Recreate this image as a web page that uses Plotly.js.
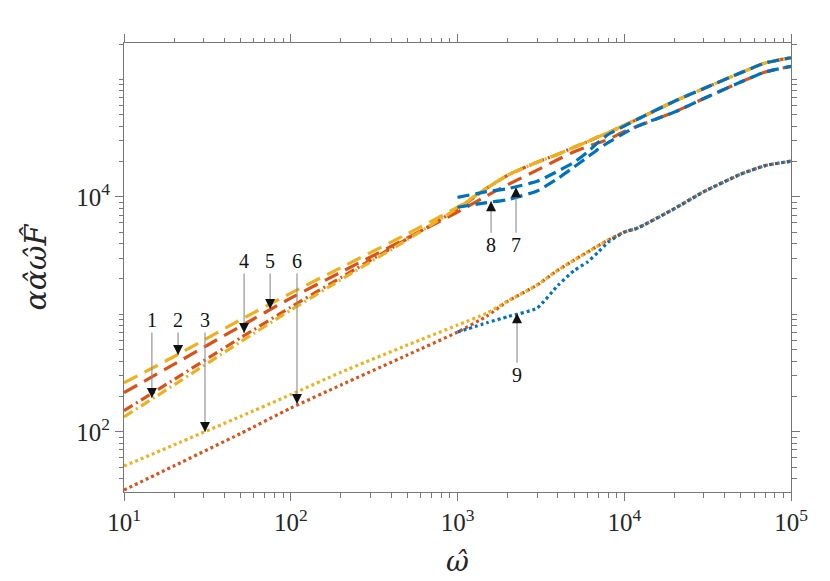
<!DOCTYPE html>
<html>
<head>
<meta charset="utf-8">
<script src="https://cdn.plot.ly/plotly-3.0.1.min.js"></script>
<style>
  body { margin: 0; background: #fff; }
  #plot { width: 830px; height: 581px; }
</style>
</head>
<body>
<div id="plot"></div>
<script>
// frequency grids
var omegaLow = [10, 20, 50, 100, 200, 500, 1000, 1500, 2000, 3000, 4000, 5000, 6000, 7000, 8000, 10000, 12000, 20000, 30000, 50000, 70000, 100000];
var omegaHigh = [1000, 1500, 2000, 3000, 4000, 5000, 6000, 7000, 8000, 10000, 12000, 20000, 30000, 50000, 70000, 100000];

// upper bundle (dashed / dash-dot)
var yelDashDot = [134, 251, 583, 1086, 1972, 4315, 8000, 11860, 15300, 19720, 23070, 26440, 29450, 32500, 35150, 40770, 45800, 65200, 83700, 114000, 138000, 153000];
var yelDash    = [261, 437, 898, 1514, 2500, 4840, 8170, 11860, 15300, 19720, 23070, 26440, 29450, 32500, 35150, 40770, 45800, 65200, 83700, 114000, 138000, 153000];
var orgDashDot = [151, 279, 631, 1151, 2057, 4395, 7850, 11860, 15300, 19720, 23070, 26440, 29450, 32500, 35150, 40770, 45800, 65200, 83700, 114000, 138000, 153000];
var orgDash    = [215, 376, 790, 1374, 2285, 4460, 7420, 10240, 12700, 16870, 20800, 24200, 26700, 28850, 30670, 36060, 40000, 52700, 68700, 95100, 115600, 129400];
var bluDashA   = [9900, 11070, 11750, 13550, 16560, 19670, 24000, 29240, 33960, 40000, 45800, 65200, 83700, 114000, 138000, 153000];
var bluDashB   = [8150, 8940, 9470, 11230, 14350, 17950, 21680, 25580, 28970, 34830, 40000, 52700, 68700, 95100, 115600, 129400];

// lower bundle (dotted)
var yelDot = [51, 77.4, 135, 207, 321, 547, 809, 1024, 1294, 1771, 2376, 2890, 3380, 3843, 4280, 5010, 5420, 7940, 11070, 15600, 18450, 20140];
var orgDot = [31.9, 51.3, 96.6, 159, 250, 450, 706, 966, 1294, 1771, 2376, 2890, 3380, 3843, 4280, 5010, 5420, 7940, 11070, 15600, 18450, 20140];
var bluDot = [706, 847, 955, 1129, 1762, 2355, 2780, 3395, 4100, 5010, 5420, 7940, 11070, 15600, 18450, 20140];

// curve labels: text, arrow target (data), text offset (px)
var labelText = ['1', '2', '3', '4', '5', '6', '7', '8', '9'];
var labelX = [14.7, 21.1, 30.6, 52.5, 75.2, 109, 2244, 1589, 2275];
var labelY = [194, 450, 99.4, 692, 1107, 172, 12100, 9190, 1023];
var labelAY = [-78, -35, -112, -72, -48, -143, 58, 44, 62];

var xTickVals = [10, 100, 1000, 10000, 100000];
var xTickText = ['10<sup>1</sup>', '10<sup>2</sup>', '10<sup>3</sup>', '10<sup>4</sup>', '10<sup>5</sup>'];
var yTickVals = [100, 10000];
var yTickText = ['10<sup>2</sup>', '10<sup>4</sup>'];

var YEL = '#EDB120', ORG = '#D95319', BLU = '#0072BD';
var DASH = '15px,8px', DASHDOT = '10px,4px,2px,4px', DOT = '3px,3px', BDASH = '12px,6px';
var SERIF = 'Liberation Serif';
var MATHF = 'DejaVu Serif';

function tr(x, y, color, dash) {
  return {
    x: x, y: y, type: 'scatter', mode: 'lines',
    line: {color: color, width: 3.2, dash: dash, shape: 'spline', smoothing: 0.5},
    hoverinfo: 'skip', showlegend: false
  };
}

var data = [
  tr(omegaLow, orgDash, ORG, DASH),
  tr(omegaLow, orgDashDot, ORG, DASHDOT),
  tr(omegaLow, orgDot, ORG, DOT),
  tr(omegaLow, yelDash, YEL, DASH),
  tr(omegaLow, yelDashDot, YEL, DASHDOT),
  tr(omegaLow, yelDot, YEL, DOT),
  tr(omegaHigh, bluDashA, BLU, BDASH),
  tr(omegaHigh, bluDashB, BLU, BDASH),
  tr(omegaHigh, bluDot, BLU, DOT)
];

// minor ticks at 1..9 x 10^n
function minorVals(lo, hi) {
  var v = [];
  for (var d = lo; d <= hi; d++) {
    for (var k = 1; k <= 9; k++) v.push(k * Math.pow(10, d));
  }
  return v;
}

// gray shaft with the label, then a short black head on top
var annotations = [];
labelText.forEach(function(t, i) {
  var ax = Math.log10(labelX[i]), ay = Math.log10(labelY[i]);
  annotations.push({
    text: t, xref: 'x', yref: 'y', x: ax, y: ay,
    ax: 0, ay: labelAY[i],
    showarrow: true, arrowhead: 0, arrowwidth: 1.1, arrowcolor: '#8c8c8c',
    font: {family: SERIF, size: 20, color: '#111'}
  });
  annotations.push({
    text: ' ', xref: 'x', yref: 'y', x: ax, y: ay,
    ax: 0, ay: labelAY[i] < 0 ? -11 : 11,
    showarrow: true, arrowhead: 2, arrowsize: 2, arrowwidth: 1,
    arrowcolor: '#111',
    font: {family: SERIF, size: 1, color: 'rgba(0,0,0,0)'}
  });
});

var axisCommon = {
  type: 'log',
  showline: true, linecolor: '#777', linewidth: 1,
  mirror: 'allticks',
  ticks: 'outside', ticklen: 8, tickwidth: 1, tickcolor: '#777',
  showgrid: false, zeroline: false,
  tickfont: {family: SERIF, size: 25, color: '#262626'},
  tickmode: 'array'
};

var layout = {
  width: 830, height: 581,
  margin: {l: 124, r: 39, t: 43, b: 89},
  paper_bgcolor: '#fff', plot_bgcolor: '#fff',
  showlegend: false,
  xaxis: Object.assign({}, axisCommon, {
    range: [1, 5],
    tickvals: xTickVals, ticktext: xTickText,
    minor: {tickvals: minorVals(1, 4), ticks: 'outside', ticklen: 4.5, tickcolor: '#777'},
    title: {text: '<i>ω̂</i>', font: {family: MATHF, size: 28, color: '#262626'}, standoff: 16}
  }),
  yaxis: Object.assign({}, axisCommon, {
    range: [1.487, 5.31],
    tickvals: yTickVals, ticktext: yTickText,
    minor: {tickvals: minorVals(1, 5), ticks: 'outside', ticklen: 4.5, tickcolor: '#777'},
    title: {text: '<i>αα̂ω̂F̂</i>', font: {family: MATHF, size: 30, color: '#262626'}, standoff: 20}
  }),
  annotations: annotations
};

Plotly.newPlot('plot', data, layout, {staticPlot: true, displayModeBar: false});
</script>
</body>
</html>
